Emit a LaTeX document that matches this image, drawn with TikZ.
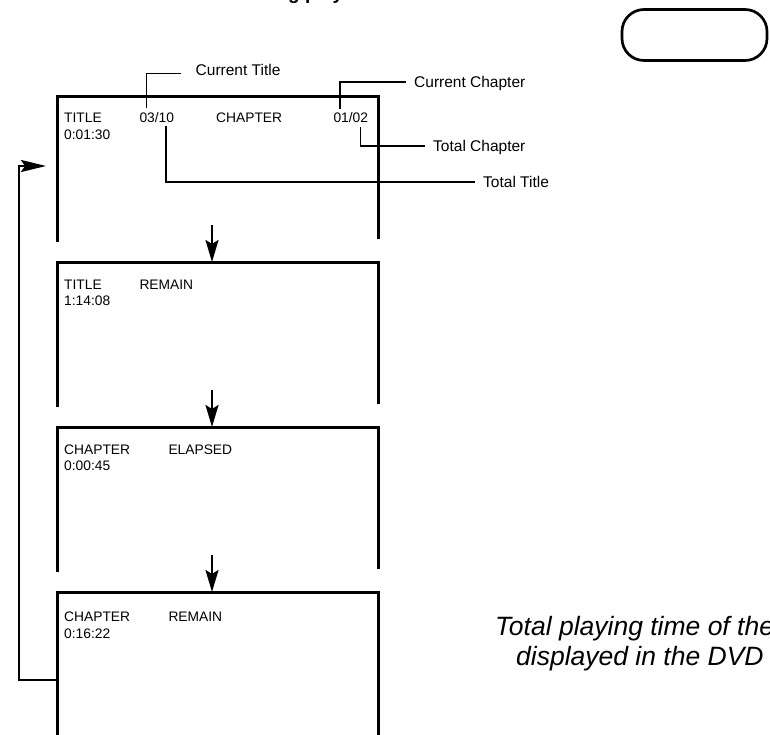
\documentclass[tikz,border=0pt]{standalone}
\usepackage{fontspec}
\setmainfont{Liberation Sans}
\usetikzlibrary{arrows.meta, positioning}

\begin{document}
\begin{tikzpicture}[x=1pt, y=-1pt, >={Stealth[length=22pt,width=13pt,inset=4pt]},
    scr/.style={minimum width=321pt, minimum height=145pt, inner sep=0, anchor=north west},
    frame/.style={line width=3pt},
    txt/.style={font=\fontsize{13.8}{17}\selectfont, inner sep=0, anchor=base west},
    lbl/.style={font=\fontsize{15.5}{18}\selectfont, anchor=west, inner xsep=8pt, inner ysep=0, text height=11pt, text depth=0pt},
    note/.style={font=\fontsize{26.5}{30}\selectfont\itshape, anchor=base west, inner sep=0},
    lead/.style={line width=1.2pt},
    flow/.style={->, line width=2.5pt}
]
\useasboundingbox (0,0) rectangle (770,735);
\clip (0,0) rectangle (770,735);

% heading (cut off at the top)
\node[font=\fontsize{19}{22}\selectfont\bfseries, anchor=base west, inner sep=0] (hd) at (288,-0.5) {g play};
\node[draw, line width=2.7pt, rounded corners=22pt, minimum width=145pt, minimum height=51pt] (btn) at (694.5,35) {};

% screens
\node[scr] (s1) at (57,97) {};
\node[scr] (s2) at (57,262) {};
\node[scr] (s3) at (57,427) {};
\node[scr, minimum height=160pt] (s4) at (57,592) {};
\foreach \s in {s1,s2,s3}
  \draw[frame] (\s.south west) -- (\s.north west) -- (\s.north east) -- ([yshift=3pt]\s.south east);
\draw[frame] (s4.south west) -- (s4.north west) -- (s4.north east) -- (s4.south east);

% screen texts
\node[txt] (t1a) at (64,123) {TITLE};
\node[txt] (t1b) at (139.3,123) {03/10};
\node[txt] (t1c) at (216,123) {CHAPTER};
\node[txt] (t1d) at (333.3,123) {01/02};
\node[txt] (t1e) at (64,139.5) {0:01:30};

\node[txt] (t2a) at (64,289) {TITLE};
\node[txt] (t2b) at (139.3,289) {REMAIN};
\node[txt] (t2c) at (64,305.5) {1:14:08};

\node[txt] (t3a) at (64,454) {CHAPTER};
\node[txt] (t3b) at (168.3,454) {ELAPSED};
\node[txt] (t3c) at (64,470.5) {0:00:45};

\node[txt] (t4a) at (64,621.5) {CHAPTER};
\node[txt] (t4b) at (168.3,621.5) {REMAIN};
\node[txt] (t4c) at (64,638) {0:16:22};

% labels
\node[lbl, inner xsep=14.5pt] (lCT) at (181,70.2) {Current Title};
\node[lbl] (lCC) at (406,82) {Current Chapter};
\node[lbl] (lTC) at (425,146) {Total Chapter};
\node[lbl] (lTT) at (475,182) {Total Title};

\draw[lead] ([xshift=7.4pt,yshift=4.6pt]t1b.north west) |- ([yshift=-3.1pt]lCT.west);
\draw[lead] ([xshift=6.7pt,yshift=4pt]t1d.north west) |- (lCC.west);
\draw[lead] ([xshift=27.4pt,yshift=-4pt]t1d.south west) |- (lTC.west);
\draw[lead] ([xshift=26.7pt,yshift=-3pt]t1b.south west) |- (lTT.west);

% arrows
\coordinate (a1) at (212,225);
\coordinate (a2) at (212,390);
\coordinate (a3) at (212,555);
\draw[flow] (a1) -- (a1 |- s2.north);
\draw[flow] (a2) -- (a2 |- s3.north);
\draw[flow] (a3) -- (a3 |- s4.north);

\coordinate (lp1) at (19,680);
\coordinate (lp2) at (46,166);
\draw[flow, line width=2.3pt, >={Stealth[length=25pt,width=12pt,inset=4pt]}] (s4.west |- lp1) -- (lp1) |- (lp2);

% note
\node[note] (tot1) at (495,635) {Total playing time of the};
\node[note] (tot2) at (516,665) {displayed in the DVD};
\end{tikzpicture}
\end{document}
